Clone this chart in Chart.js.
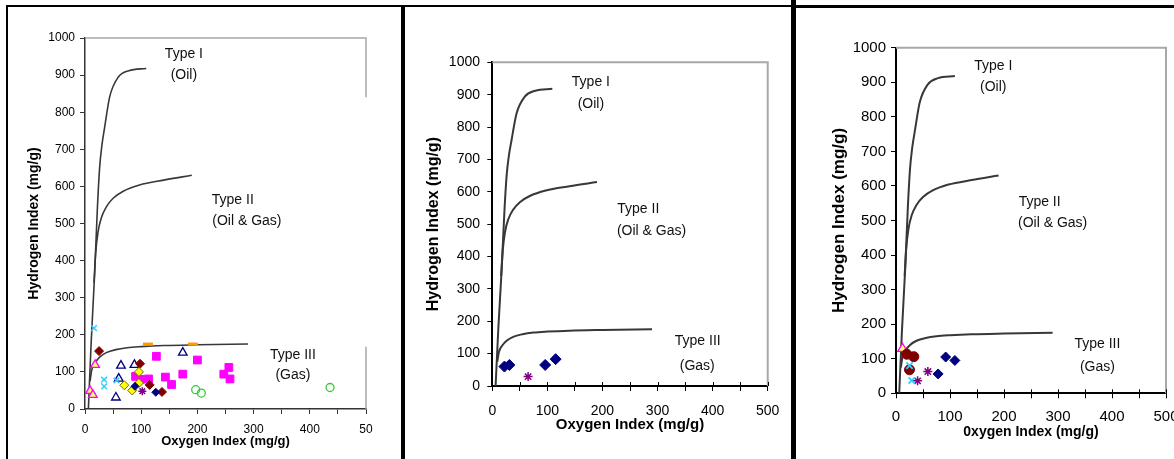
<!DOCTYPE html>
<html><head><meta charset="utf-8">
<script src="https://cdn.jsdelivr.net/npm/chart.js@4/dist/chart.umd.min.js"></script>
<style>
html,body{margin:0;padding:0;background:#fff;width:1174px;height:459px;overflow:hidden;position:relative;}
canvas{position:absolute;top:0;}
.ln{position:absolute;background:#000;}
</style></head><body>
<canvas id="c1" width="400" height="459" style="left:0px"></canvas>
<canvas id="c2" width="386" height="459" style="left:405px"></canvas>
<canvas id="c3" width="420" height="459" style="left:797px"></canvas>
<div class="ln" style="left:6px;top:5px;width:395px;height:2px"></div>
<div class="ln" style="left:6px;top:5px;width:2px;height:454px"></div>
<div class="ln" style="left:401px;top:5px;width:4px;height:454px"></div>
<div class="ln" style="left:401px;top:5px;width:392px;height:2px"></div>
<div class="ln" style="left:791px;top:0px;width:5px;height:459px"></div>
<div class="ln" style="left:791px;top:5px;width:383px;height:3px"></div>
<script>
// ---- Van Krevelen reference curves (Oxygen Index, Hydrogen Index) ----
const typeIOI   = [6, 11, 17, 22, 26, 30, 35, 44, 59, 78, 109];
const typeIHI   = [0, 180, 360, 540, 650, 710, 760, 842, 894, 912, 918];
const typeIIOI  = [16, 19, 23, 29, 38, 50, 68, 97, 140, 190];
const typeIIHI  = [340, 420, 475, 515, 545, 568, 587, 604, 617, 630];
const typeIIIOI = [9, 12, 18, 26, 38, 55, 75, 100, 140, 200, 290];
const typeIIIHI = [75, 105, 125, 140, 152, 160, 165, 168, 171, 173, 175];

// ---- text labels ----
const typeLabels = ['Type I', '(Oil)', 'Type II', '(Oil & Gas)', 'Type III', '(Gas)'];
const p1LabelOI = [176, 176, 263, 288, 370, 370];
const p1LabelHI = [957, 900, 563, 507, 146, 90];
const p2LabelOI = [179, 179, 265, 289, 373, 372];
const p2LabelHI = [940, 871, 545, 477, 138, 61];
const p3LabelOI = [180, 180, 266, 290, 373, 373];
const p3LabelHI = [948, 885, 554, 493, 143, 77];

const p1XLabels = ['0', '100', '200', '300', '400', '50'];
const xLabels   = ['0', '100', '200', '300', '400', '500'];
const yLabels   = ['0', '100', '200', '300', '400', '500', '600', '700', '800', '900', '1000'];

// ---- panel 1 samples ----
const p1CyanOI = [16, 34, 34, 56];
const p1CyanHI = [218, 79, 61, 77];
const p1MaroonOI = [25, 98, 115, 137];
const p1MaroonHI = [156, 122, 65, 46];
const p1PinkTriOI = [18, 9, 14];
const p1PinkTriHI = [119, 49, 38];
const p1NavyTriOI = [64, 88, 60, 55, 174];
const p1NavyTriHI = [117, 119, 82, 31, 152];
const p1OrangeOI = [112, 192];
const p1OrangeHI = [175, 175];
const p1MagentaOI = [90, 99, 113, 127, 143, 154, 174, 200, 247, 256, 258];
const p1MagentaHI = [88, 80, 81, 142, 86, 66, 94, 132, 94, 112, 81];
const p1YellowOI = [96, 96, 70, 84];
const p1YellowHI = [100, 70, 64, 50];
const p1NavyDiaOI = [89, 126];
const p1NavyDiaHI = [61, 45];
const p1PurpleOI = [102];
const p1PurpleHI = [48];
const p1GreenOI = [197, 207, 436];
const p1GreenHI = [52, 43, 58];

// ---- panel 2 samples ----
const p2NavyOI = [22, 31, 96, 115];
const p2NavyHI = [60, 65, 65, 83];
const p2PurpleOI = [65];
const p2PurpleHI = [29];

// ---- panel 3 samples ----
const p3PinkTriOI = [12];
const p3PinkTriHI = [129];
const p3MaroonOI = [20, 33, 25];
const p3MaroonHI = [113, 106, 68];
const p3CyanOI = [25, 29];
const p3CyanHI = [80, 37];
const p3PurpleOI = [40, 59];
const p3PurpleHI = [36, 63];
const p3NavyOI = [78, 92, 109];
const p3NavyHI = [56, 105, 95];

const FONT = '"Liberation Sans", Arial, sans-serif';

function pts(xs, ys) { return xs.map((x, i) => ({x: x, y: ys[i]})); }

function curves(w) {
  return [[typeIOI, typeIHI], [typeIIOI, typeIIHI], [typeIIIOI, typeIIIHI]].map(function (c) {
    return {data: pts(c[0], c[1]), showLine: true, pointRadius: 0, borderColor: '#383838',
      borderWidth: w, cubicInterpolationMode: 'monotone', fill: false};
  });
}

function marker(xs, ys, style, fill, stroke, r, bw) {
  return {data: pts(xs, ys), showLine: false, pointStyle: style, pointRadius: r,
    backgroundColor: fill, borderColor: stroke, borderWidth: bw,
    pointBackgroundColor: fill, pointBorderColor: stroke, pointBorderWidth: bw};
}

const framePlugin = {
  id: 'frame',
  beforeDatasetsDraw(chart, args, o) {
    const a = chart.chartArea, y = chart.scales.y, x = chart.scales.x, ctx = chart.ctx;
    ctx.save();
    ctx.strokeStyle = o.color; ctx.lineWidth = o.width;
    ctx.beginPath();
    ctx.moveTo(a.left, a.top); ctx.lineTo(a.right, a.top);
    if (o.gap) {
      ctx.lineTo(a.right, y.getPixelForValue(o.gap[1]));
      ctx.moveTo(a.right, y.getPixelForValue(o.gap[0]));
      ctx.lineTo(a.right, a.bottom);
    } else {
      ctx.lineTo(a.right, a.bottom);
    }
    ctx.stroke();
    if (o.cross) {
      // cross-style tick marks: inner half of each x tick
      ctx.strokeStyle = o.tickColor; ctx.lineWidth = 1;
      ctx.beginPath();
      x.ticks.forEach(function (t) {
        const px = Math.round(x.getPixelForValue(t.value)) + 0.5;
        ctx.moveTo(px, a.bottom); ctx.lineTo(px, a.bottom - 4);
      });
      ctx.stroke();
    }
    ctx.restore();
  }
};

const labelPlugin = {
  id: 'typeLabels',
  afterDatasetsDraw(chart, args, o) {
    const ctx = chart.ctx, xs = chart.scales.x, ys = chart.scales.y;
    ctx.save();
    ctx.fillStyle = '#111';
    ctx.font = o.size + 'px ' + FONT;
    ctx.textAlign = 'center';
    ctx.textBaseline = 'middle';
    typeLabels.forEach(function (t, i) {
      ctx.fillText(t, xs.getPixelForValue(o.ox[i]), ys.getPixelForValue(o.hy[i]));
    });
    ctx.restore();
  }
};

function makeChart(id, c) {
  return new Chart(document.getElementById(id), {
    type: 'scatter',
    data: {datasets: c.datasets},
    options: {
      responsive: false, animation: false, devicePixelRatio: 1,
      layout: {padding: {left: 0, top: c.top, right: c.right, bottom: 0}},
      plugins: {
        legend: {display: false}, tooltip: {enabled: false},
        frame: {color: '#a8a8a8', width: c.frameW, gap: c.gap, cross: c.cross, tickColor: c.axisColor},
        typeLabels: {size: c.labelSize, ox: c.lox, hy: c.lhy}
      },
      scales: {
        x: {
          type: 'linear', min: 0, max: 500,
          afterFit: function (s) { s.height = c.xH; },
          ticks: {stepSize: 50, autoSkip: false, maxRotation: 0, minRotation: 0, color: '#000',
            padding: c.xTickPad, font: {family: FONT, size: c.tickSize},
            callback: function (v) { return v % 100 === 0 ? c.xl[v / 100] : ''; }},
          grid: {display: true, drawOnChartArea: false, drawTicks: true, tickLength: 5, color: c.axisColor, lineWidth: 1},
          border: {display: true, color: c.axisColor, width: c.axisW},
          title: {display: true, text: c.xTitle, color: '#000',
            font: {family: FONT, size: c.xTitleSize, weight: 'bold'}, padding: {top: 0, bottom: c.xTitlePad}}
        },
        y: {
          type: 'linear', min: 0, max: 1000,
          afterFit: function (s) { s.width = c.yW; },
          ticks: {stepSize: 100, autoSkip: false, color: '#000', padding: c.yTickPad,
            font: {family: FONT, size: c.tickSize},
            callback: function (v) { return yLabels[Math.round(v / 100)]; }},
          grid: {display: true, drawOnChartArea: false, drawTicks: true, tickLength: 5, color: c.axisColor, lineWidth: 1},
          border: {display: true, color: c.axisColor, width: c.axisW},
          title: {display: true, text: 'Hydrogen Index (mg/g)', color: '#000',
            font: {family: FONT, size: c.yTitleSize, weight: 'bold'}, padding: {top: c.yTitlePad, bottom: 0}}
        }
      }
    },
    plugins: [framePlugin, labelPlugin]
  });
}

// Panel 1
makeChart('c1', {
  datasets: [
    marker(p1PurpleOI, p1PurpleHI, 'star', '#800080', '#800080', 4, 1.5),
    marker(p1NavyDiaOI, p1NavyDiaHI, 'rectRot', '#000080', '#000080', 4, 1),
    marker(p1YellowOI, p1YellowHI, 'rectRot', '#ffff00', '#6b6b00', 4.5, 1),
    marker(p1MaroonOI, p1MaroonHI, 'rectRot', '#800000', '#800000', 4.5, 1),
    marker(p1PinkTriOI, p1PinkTriHI, 'triangle', '#ffff66', '#ff00ff', 5, 1.3),
    marker(p1CyanOI, p1CyanHI, 'crossRot', '#33ccff', '#33ccff', 4, 1.5),
    marker(p1NavyTriOI, p1NavyTriHI, 'triangle', 'rgba(255,255,255,0)', '#000080', 5, 1.3),
    marker(p1OrangeOI, p1OrangeHI, 'line', '#ff9900', '#ff9900', 5, 3),
    marker(p1GreenOI, p1GreenHI, 'circle', 'rgba(255,255,255,0)', '#33cc33', 4, 1.3),
    marker(p1MagentaOI, p1MagentaHI, 'rect', '#ff00ff', '#ff00ff', 5.5, 1)
  ].concat(curves(1.6)),
  top: 38, right: 34, yW: 85, xH: 50, axisColor: '#333', axisW: 1.5, frameW: 1.5, gap: [168, 840], cross: false,
  tickSize: 12, xTickPad: 8.5, yTickPad: 5, xl: p1XLabels,
  xTitle: 'Oxygen Index (mg/g)', xTitleSize: 13, xTitlePad: 10, yTitleSize: 14, yTitlePad: 25.6,
  labelSize: 14, lox: p1LabelOI, lhy: p1LabelHI
});

// Panel 2
makeChart('c2', {
  datasets: [
    marker(p2PurpleOI, p2PurpleHI, 'star', '#800080', '#800080', 4.5, 1.5),
    marker(p2NavyOI, p2NavyHI, 'rectRot', '#000080', '#000080', 5.5, 1)
  ].concat(curves(2)),
  top: 62.3, right: 15.3, yW: 87.3, xH: 73, axisColor: '#000', axisW: 2, frameW: 2, gap: null, cross: true,
  tickSize: 14, xTickPad: 11.6, yTickPad: 7.3, xl: xLabels,
  xTitle: 'Oxygen Index (mg/g)', xTitleSize: 15, xTitlePad: 25, yTitleSize: 16, yTitlePad: 19,
  labelSize: 14, lox: p2LabelOI, lhy: p2LabelHI
});

// Panel 3
makeChart('c3', {
  datasets: [
    marker(p3CyanOI, p3CyanHI, 'crossRot', '#33ccff', '#33ccff', 4.5, 1.8),
    marker(p3PurpleOI, p3PurpleHI, 'star', '#800080', '#800080', 4.5, 1.5),
    marker(p3NavyOI, p3NavyHI, 'rectRot', '#000080', '#000080', 5, 1),
    marker(p3MaroonOI, p3MaroonHI, 'circle', '#800000', '#800000', 5, 1),
    marker(p3PinkTriOI, p3PinkTriHI, 'triangle', '#ffff66', '#ff00ff', 5.5, 1.3)
  ].concat(curves(2)),
  top: 47.7, right: 51, yW: 99, xH: 65.7, axisColor: '#000', axisW: 2, frameW: 2, gap: null, cross: true,
  tickSize: 15, xTickPad: 9.7, yTickPad: 5, xl: xLabels,
  xTitle: '0xygen Index (mg/g)', xTitleSize: 14, xTitlePad: 18.6, yTitleSize: 17, yTitlePad: 32,
  labelSize: 14, lox: p3LabelOI, lhy: p3LabelHI
});
</script>
</body></html>
